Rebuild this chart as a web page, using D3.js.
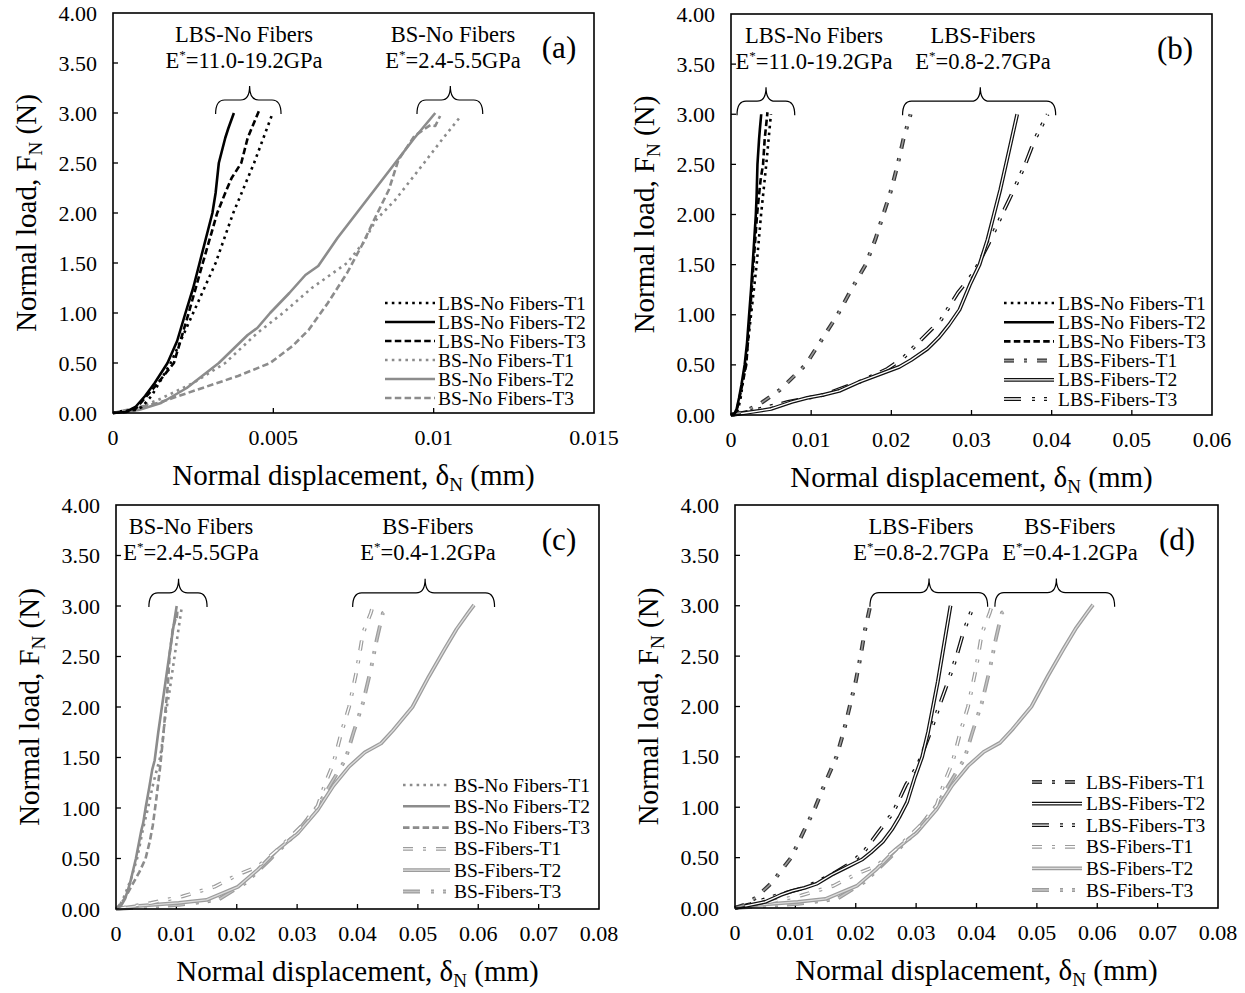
<!DOCTYPE html>
<html lang="en">
<head>
<meta charset="utf-8">
<title>Normal load vs normal displacement</title>
<script src="https://d3js.org/d3.v7.min.js"></script>
<style>
  body { margin: 0; background: #fff; }
  svg { display: block; font-family: "Liberation Serif", "Times New Roman", serif; }
</style>
</head>
<body>
<svg id="chart" width="1245" height="993"></svg>
<script>
// ---- data: [displacement (mm), load (N)] ----
var lbsNoT1 = [[0,0],[0.0003,0.02],[0.0007,0.03],[0.0009,0.06],[0.0012,0.17],[0.0018,0.5],[0.0025,1.0],[0.0032,1.5],[0.00375,2.0],[0.0044,2.5],[0.00498,3.0]];
var lbsNoT2 = [[0,0],[0.0004,0.01],[0.0007,0.06],[0.001,0.17],[0.0013,0.3],[0.0017,0.5],[0.002,0.72],[0.00226,1.0],[0.0025,1.25],[0.0027,1.5],[0.0029,1.75],[0.0031,2.0],[0.0032,2.2],[0.0033,2.5],[0.0035,2.75],[0.0036,2.85],[0.00377,3.0]];
var lbsNoT3 = [[0,0],[0.0004,0.01],[0.0007,0.04],[0.001,0.15],[0.0014,0.3],[0.0019,0.5],[0.00236,1.0],[0.0028,1.5],[0.00325,2.0],[0.0035,2.2],[0.0037,2.35],[0.004,2.5],[0.0042,2.75],[0.00455,3.02]];
var bsNoT1 = [[0,0],[0.0006,0.03],[0.0014,0.13],[0.0025,0.3],[0.0035,0.5],[0.0045,0.8],[0.0053,1.0],[0.0062,1.25],[0.0073,1.5],[0.0078,1.7],[0.0082,1.93],[0.0088,2.13],[0.0097,2.5],[0.0103,2.75],[0.01085,2.97]];
var bsNoT2 = [[0,0],[0.0008,0.03],[0.0015,0.1],[0.0023,0.25],[0.0033,0.5],[0.0042,0.78],[0.0045,0.85],[0.0049,1.0],[0.0055,1.2],[0.006,1.38],[0.0064,1.47],[0.007,1.75],[0.0076,2.0],[0.0082,2.25],[0.0088,2.5],[0.0094,2.75],[0.01005,3.0]];
var bsNoT3 = [[0,0],[0.0014,0.1],[0.0026,0.23],[0.0039,0.37],[0.0049,0.5],[0.0056,0.67],[0.0061,0.83],[0.0067,1.1],[0.0073,1.4],[0.0078,1.7],[0.0082,1.97],[0.0086,2.23],[0.0089,2.53],[0.0094,2.77],[0.0099,2.88],[0.01005,2.87],[0.0102,2.97]];
var lbsFT1 = [[0,0],[0.0015,0.03],[0.0034,0.1],[0.0061,0.25],[0.0093,0.5],[0.0113,0.75],[0.0133,1.0],[0.015,1.25],[0.0168,1.5],[0.018,1.75],[0.019,2.0],[0.02,2.25],[0.0208,2.5],[0.0215,2.75],[0.0224,3.0]];
var lbsFT2 = [[0,0],[0.0026,0.03],[0.005,0.06],[0.0076,0.13],[0.0095,0.17],[0.0115,0.2],[0.0135,0.24],[0.016,0.33],[0.019,0.42],[0.021,0.48],[0.0225,0.55],[0.0245,0.66],[0.026,0.78],[0.0272,0.9],[0.0285,1.05],[0.0298,1.3],[0.031,1.5],[0.032,1.75],[0.0328,2.0],[0.0336,2.25],[0.0343,2.5],[0.035,2.75],[0.0357,3.0]];
var lbsFT3 = [[0,0],[0.0026,0.04],[0.0071,0.13],[0.0115,0.2],[0.016,0.33],[0.0195,0.46],[0.0215,0.57],[0.0237,0.75],[0.0262,0.95],[0.0283,1.22],[0.0303,1.42],[0.0322,1.72],[0.0338,2.0],[0.0353,2.25],[0.0367,2.5],[0.0379,2.75],[0.0395,3.0]];
var bsFT1 = [[0,0],[0.0058,0.06],[0.011,0.125],[0.0163,0.22],[0.0202,0.34],[0.0235,0.42],[0.0268,0.59],[0.0307,0.82],[0.0334,1.02],[0.0347,1.25],[0.036,1.44],[0.0373,1.74],[0.0386,2.0],[0.0399,2.37],[0.0409,2.73],[0.0422,2.93],[0.0426,3.01]];
var bsFT2 = [[0,0],[0.0038,0.03],[0.0104,0.06],[0.015,0.09],[0.0202,0.22],[0.0235,0.39],[0.0268,0.59],[0.0301,0.75],[0.0334,0.98],[0.036,1.22],[0.0386,1.41],[0.0412,1.55],[0.0439,1.64],[0.0459,1.77],[0.0491,2.0],[0.0518,2.3],[0.0544,2.57],[0.0564,2.77],[0.0583,2.93],[0.0593,3.01]];
var bsFT3 = [[0,0],[0.0104,0.04],[0.0169,0.09],[0.0215,0.26],[0.0255,0.49],[0.0294,0.72],[0.0334,1.02],[0.036,1.28],[0.038,1.48],[0.0393,1.74],[0.0409,2.04],[0.0422,2.37],[0.0432,2.67],[0.0442,2.93],[0.0449,2.96]];

var yTicks = [0, 0.5, 1, 1.5, 2, 2.5, 3, 3.5, 4];
var xTicksA = [0, 0.005, 0.01, 0.015];
var xTicksB = [0, 0.01, 0.02, 0.03, 0.04, 0.05, 0.06];
var xTicksCD = [0, 0.01, 0.02, 0.03, 0.04, 0.05, 0.06, 0.07, 0.08];

// line looks (Excel-like, compound lines get an inner stroke)
var looks = {
  "LBS-No Fibers-T1": {data: lbsNoT1, color: "#000", w: 2.6, dash: "2.6,4.2"},
  "LBS-No Fibers-T2": {data: lbsNoT2, color: "#000", w: 2.6},
  "LBS-No Fibers-T3": {data: lbsNoT3, color: "#000", w: 2.6, dash: "6.5,3.3"},
  "BS-No Fibers-T1": {data: bsNoT1, color: "#8c8c8c", w: 2.6, dash: "2.6,4.2"},
  "BS-No Fibers-T2": {data: bsNoT2, color: "#8c8c8c", w: 2.6},
  "BS-No Fibers-T3": {data: bsNoT3, color: "#8c8c8c", w: 2.6, dash: "6.5,3.3"},
  "LBS-Fibers-T1": {data: lbsFT1, color: "#333", inner: "#999", w: 4, iw: 1.6, dash: "10,10,3,10"},
  "LBS-Fibers-T2": {data: lbsFT2, color: "#111", inner: "#fff", w: 3.8, iw: 1.3},
  "LBS-Fibers-T3": {data: lbsFT3, color: "#111", inner: "#fff", w: 3.8, iw: 1.3, dash: "17,11,3,9,3,9"},
  "BS-Fibers-T1": {data: bsFT1, color: "#9c9c9c", inner: "#fff", w: 3.8, iw: 1.4, dash: "10,10,3,10"},
  "BS-Fibers-T2": {data: bsFT2, color: "#9c9c9c", inner: "#dcdcdc", w: 3.8, iw: 1.3},
  "BS-Fibers-T3": {data: bsFT3, color: "#9c9c9c", inner: "#c4c4c4", w: 3.8, iw: 1.4, dash: "17,11,3,9,3,9"}
};

var panels = [
  {tag: "(a)", box: [113, 594, 13, 413], xTicks: xTicksA, tagX: 559,
   series: ["LBS-No Fibers-T1","LBS-No Fibers-T2","LBS-No Fibers-T3","BS-No Fibers-T1","BS-No Fibers-T2","BS-No Fibers-T3"],
   legend: {x0: 385, x1: 435, tx: 438, y0: 303, dy: 19},
   groups: [{name: "LBS-No Fibers", e: "=11.0-19.2GPa", cx: 244, br: [0.0032, 0.00524, 0.00426]},
            {name: "BS-No Fibers", e: "=2.4-5.5GPa", cx: 453, br: [0.00948, 0.01153, 0.01052]}]},
  {tag: "(b)", box: [731, 1212, 14, 415], xTicks: xTicksB, tagX: 1175,
   series: ["LBS-No Fibers-T1","LBS-No Fibers-T2","LBS-No Fibers-T3","LBS-Fibers-T1","LBS-Fibers-T2","LBS-Fibers-T3"],
   legend: {x0: 1004, x1: 1054, tx: 1058, y0: 303, dy: 19.2},
   groups: [{name: "LBS-No Fibers", e: "=11.0-19.2GPa", cx: 814, br: [0.00075, 0.00795, 0.00437]},
            {name: "LBS-Fibers", e: "=0.8-2.7GPa", cx: 983, br: [0.0214, 0.0405, 0.0311]}]},
  {tag: "(c)", box: [116, 599, 505, 909], xTicks: xTicksCD, tagX: 559,
   series: ["BS-No Fibers-T1","BS-No Fibers-T2","BS-No Fibers-T3","BS-Fibers-T1","BS-Fibers-T2","BS-Fibers-T3"],
   legend: {x0: 403, x1: 450, tx: 454, y0: 785, dy: 21.3},
   groups: [{name: "BS-No Fibers", e: "=2.4-5.5GPa", cx: 191, br: [0.00545, 0.01508, 0.01036]},
            {name: "BS-Fibers", e: "=0.4-1.2GPa", cx: 428, br: [0.0392, 0.0627, 0.0512]}]},
  {tag: "(d)", box: [735, 1218, 505, 908], xTicks: xTicksCD, tagX: 1177,
   series: ["LBS-Fibers-T1","LBS-Fibers-T2","LBS-Fibers-T3","BS-Fibers-T1","BS-Fibers-T2","BS-Fibers-T3"],
   legend: {x0: 1032, x1: 1082, tx: 1086, y0: 782, dy: 21.6},
   groups: [{name: "LBS-Fibers", e: "=0.8-2.7GPa", cx: 921, br: [0.02235, 0.04185, 0.03214]},
            {name: "BS-Fibers", e: "=0.4-1.2GPa", cx: 1070, br: [0.04305, 0.06288, 0.05323]}]}
];

var svg = d3.select("#chart");
svg.append("rect").attr("width", 1245).attr("height", 993).attr("fill", "#fff");

function drawLine(g, d, look, gen) {
  g.append("path").datum(d).attr("d", gen)
    .attr("fill", "none").attr("stroke", look.color).attr("stroke-width", look.w)
    .attr("stroke-dasharray", look.dash || null).attr("stroke-linejoin", "round");
  if (look.inner) {
    g.append("path").datum(d).attr("d", gen)
      .attr("fill", "none").attr("stroke", look.inner).attr("stroke-width", look.iw)
      .attr("stroke-dasharray", look.dash || null).attr("stroke-linejoin", "round");
  }
}

function fmtX(v) { return v === 0 ? "0" : String(+v.toFixed(3)); }

panels.forEach(function(p) {
  var L = p.box[0], R = p.box[1], T = p.box[2], B = p.box[3];
  var xMax = p.xTicks[p.xTicks.length - 1];
  var x = d3.scaleLinear().domain([0, xMax]).range([L, R]);
  var y = d3.scaleLinear().domain([0, 4]).range([B, T]);
  var g = svg.append("g");

  // tick labels
  g.selectAll(".yt").data(yTicks).enter().append("text")
    .attr("x", L - 16).attr("y", function(d) { return y(d) + 7.5; })
    .attr("text-anchor", "end").attr("font-size", 22).text(d3.format(".2f"));
  g.selectAll(".xt").data(p.xTicks).enter().append("text")
    .attr("x", function(d) { return x(d); }).attr("y", B + 32)
    .attr("text-anchor", "middle").attr("font-size", 22).text(fmtX);

  // small inside ticks
  g.selectAll(".xk").data(p.xTicks.slice(1, -1)).enter().append("line")
    .attr("x1", function(d) { return x(d); }).attr("x2", function(d) { return x(d); })
    .attr("y1", B).attr("y2", B - 5).attr("stroke", "#000").attr("stroke-width", 1.3);
  g.selectAll(".yk").data(yTicks.slice(1, -1)).enter().append("line")
    .attr("x1", L).attr("x2", L + 5)
    .attr("y1", function(d) { return y(d); }).attr("y2", function(d) { return y(d); })
    .attr("stroke", "#000").attr("stroke-width", 1.3);

  // curves
  var gen = d3.line().x(function(d) { return x(d[0]); }).y(function(d) { return y(d[1]); });
  var order = p.series.slice().reverse();
  order.forEach(function(name) { drawLine(g, looks[name].data, looks[name], gen); });

  // frame
  g.append("rect").attr("x", L).attr("y", T).attr("width", R - L).attr("height", B - T)
    .attr("fill", "none").attr("stroke", "#000").attr("stroke-width", 1.6);

  // axis titles
  var yt = g.append("text").attr("transform", "translate(" + (L - 77) + "," + ((T + B) / 2) + ") rotate(-90)")
    .attr("text-anchor", "middle").attr("font-size", 29);
  yt.append("tspan").text("Normal load, F");
  yt.append("tspan").attr("font-size", 19).attr("dy", 6).text("N");
  yt.append("tspan").attr("dy", -6).text(" (N)");
  var xt = g.append("text").attr("x", (L + R) / 2).attr("y", B + 72)
    .attr("text-anchor", "middle").attr("font-size", 29);
  xt.append("tspan").text("Normal displacement, \u03b4");
  xt.append("tspan").attr("font-size", 19).attr("dy", 6).text("N");
  xt.append("tspan").attr("dy", -6).text(" (mm)");

  // group labels and braces
  p.groups.forEach(function(gr) {
    g.append("text").attr("x", gr.cx).attr("y", T + 29).attr("text-anchor", "middle")
      .attr("font-size", 22.5).text(gr.name);
    var e = g.append("text").attr("x", gr.cx).attr("y", T + 55).attr("text-anchor", "middle")
      .attr("font-size", 22.5);
    e.append("tspan").text("E");
    e.append("tspan").attr("font-size", 13).attr("dy", -9).text("*");
    e.append("tspan").attr("dy", 9).text(gr.e);
    var x0 = x(gr.br[0]), x1 = x(gr.br[1]), xm = x(gr.br[2]);
    var yE = y(2.99), yT = y(3.13), yP = y(3.27), r = 9;
    var path = "M" + x0 + "," + yE + " Q" + x0 + "," + yT + " " + (x0 + r) + "," + yT +
      " L" + (xm - r) + "," + yT + " Q" + xm + "," + yT + " " + xm + "," + yP +
      " Q" + xm + "," + yT + " " + (xm + r) + "," + yT +
      " L" + (x1 - r) + "," + yT + " Q" + x1 + "," + yT + " " + x1 + "," + yE;
    g.append("path").attr("d", path).attr("fill", "none").attr("stroke", "#000").attr("stroke-width", 1.2);
  });

  // panel tag
  g.append("text").attr("x", p.tagX).attr("y", T + 45).attr("text-anchor", "middle")
    .attr("font-size", 31).text(p.tag);

  // legend
  var lg = p.legend;
  p.series.forEach(function(name, i) {
    var yy = lg.y0 + i * lg.dy;
    var lgen = d3.line();
    drawLine(g, [[lg.x0, yy], [lg.x1, yy]], looks[name], lgen);
    g.append("text").attr("x", lg.tx).attr("y", yy + 6.5).attr("font-size", 19.5).text(name);
  });
});
</script>
</body>
</html>
